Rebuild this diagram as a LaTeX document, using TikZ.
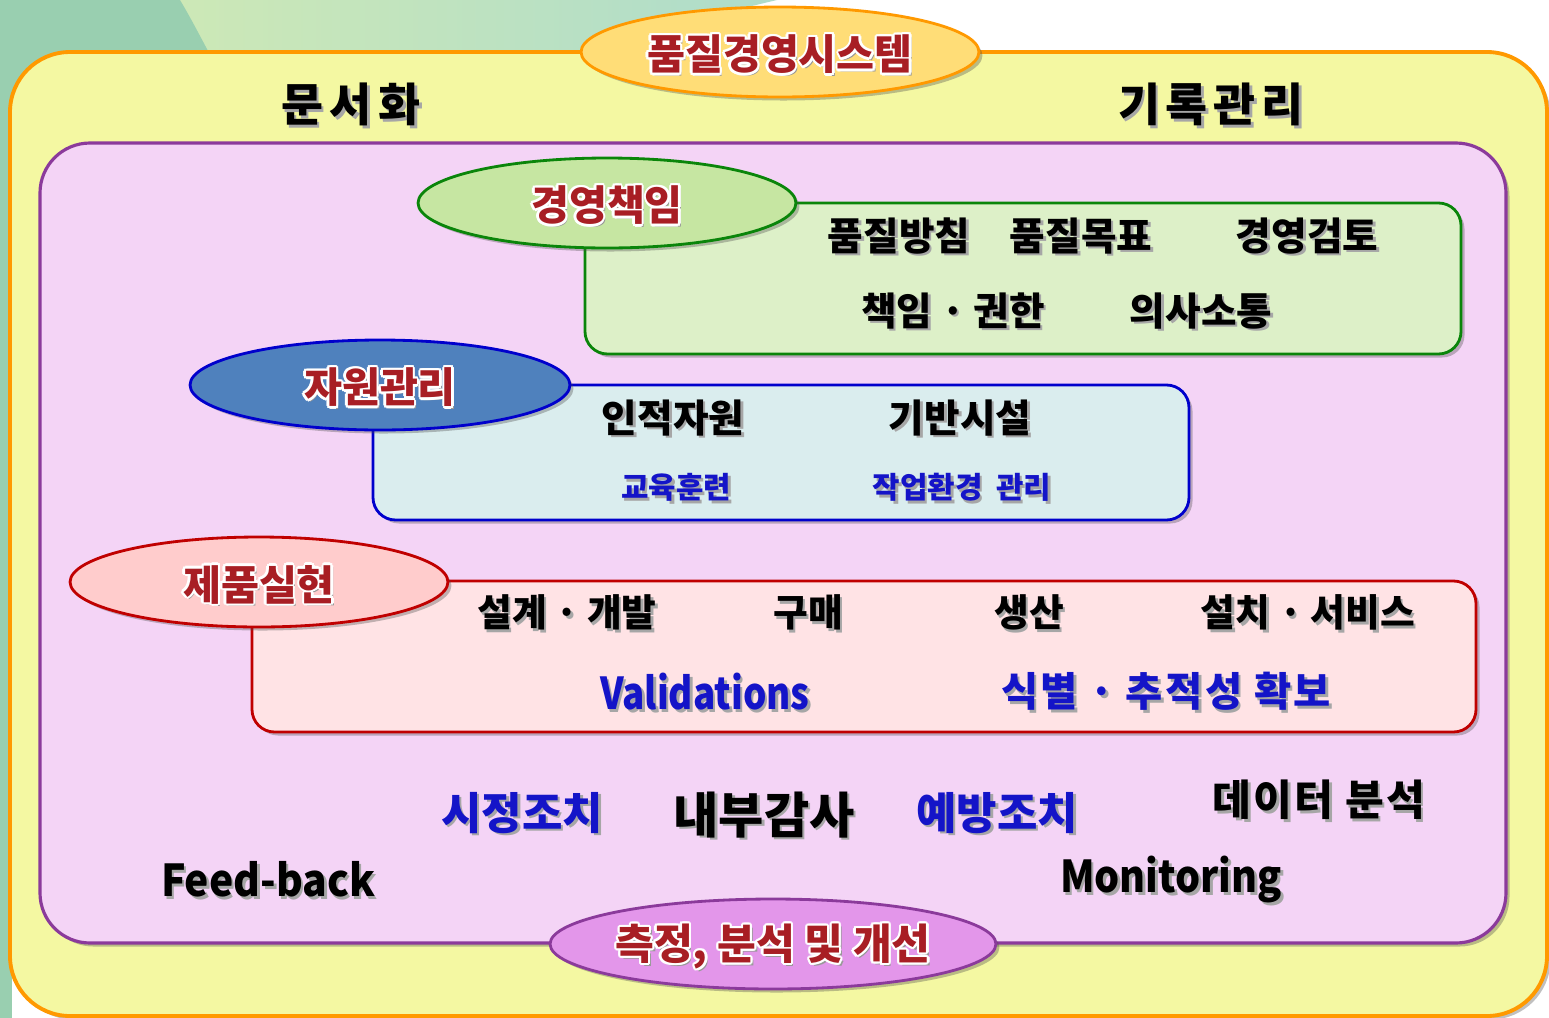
\documentclass[tikz,border=0pt]{standalone}
\usepackage{fontspec}
\setmainfont{Noto Sans CJK KR}
\usepackage{contour}
\contourlength{1.3pt}
\contournumber{12}
\usetikzlibrary{shapes.geometric,shadows}
\definecolor{dg}{HTML}{99CFB0}
\definecolor{lgA}{HTML}{D6ECB0}
\definecolor{lgB}{HTML}{AEDCCB}
\definecolor{outfill}{HTML}{F4F8A2}
\definecolor{outdraw}{HTML}{FF9900}
\definecolor{infill}{HTML}{F4D4F6}
\definecolor{indraw}{HTML}{8B3A9B}
\definecolor{topell}{HTML}{FFDD77}
\definecolor{gell}{HTML}{C6E6A2}
\definecolor{gbox}{HTML}{DDF0C8}
\definecolor{gdraw}{HTML}{0A850A}
\definecolor{bell}{HTML}{4F81BD}
\definecolor{bdraw}{HTML}{0000CC}
\definecolor{bbox}{HTML}{DAEDEE}
\definecolor{rell}{HTML}{FFCCCC}
\definecolor{rdraw}{HTML}{C00000}
\definecolor{rbox}{HTML}{FFE3E5}
\definecolor{pell}{HTML}{E396EA}
\definecolor{ttlred}{HTML}{A81E24}
\definecolor{btext}{HTML}{1414C8}
\newcommand\sh[1]{\rlap{\kern1.5pt\raisebox{-1.5pt}{\textcolor{black!35}{#1}}}#1}
\newcommand\ttl[1]{\raisebox{-2.2pt}[\height][\depth]{\rlap{\kern1.6pt\raisebox{-1.6pt}{\textcolor{black!40}{#1}}}\contour{white}{#1}}}
\newcommand\cx[2]{\scalebox{#1}[1]{#2}}
\newcommand\ls[2]{{\addfontfeature{LetterSpace=#1}#2}}
\begin{document}
\begin{tikzpicture}[x=0.02cm,y=-0.02cm,
  shd/.style={drop shadow={shadow xshift=2pt,shadow yshift=-2pt,opacity=0.35,fill=black!70}},
  ellbox/.style={ellipse,inner sep=0pt,minimum height=1.8cm,line width=1.6pt,shd,
     text=ttlred,font=\fontsize{23.5}{26}\selectfont\bfseries},
  sec/.style={rounded corners=0.45cm,line width=1.6pt,shd},
  big/.style={font=\fontsize{26}{30}\selectfont\bfseries},
  mid/.style={font=\fontsize{22}{26}\selectfont\bfseries},
  row/.style={font=\fontsize{21.5}{26}\selectfont\bfseries},
  sml/.style={font=\fontsize{17}{20}\selectfont\bfseries,text=btext},
  blu/.style={font=\fontsize{23}{27}\selectfont\bfseries,text=btext},
  lat/.style={font=\fontsize{25}{30}\selectfont\bfseries},
  bot/.style={font=\fontsize{25}{29}\selectfont\bfseries}]
\useasboundingbox (0,0) rectangle (1549,1018);
\fill[white] (0,0) rectangle (1549,1018);
\shade[left color=lgA,right color=lgB] (0,0) -- (777,0) .. controls (700,18) and (630,38) .. (585,62) -- (0,62) -- cycle;
\fill[dg] (0,0) -- (180,0) .. controls (192,20) and (203,42) .. (214,62) -- (0,62) -- cycle;
\fill[dg] (0,0) rectangle (80,140);
\fill[dg] (0,0) rectangle (12,1018);
% outer box
\draw[fill=outfill,draw=outdraw,line width=2.2pt,rounded corners=1.2cm,shd] (10,52) rectangle (1547,1016);
% inner box
\draw[fill=infill,draw=indraw,line width=1.8pt,rounded corners=1cm,shd] (40,143) rectangle (1506,943);
% top title
\node[ellbox,fill=topell,draw=outdraw,minimum width=7.96cm] (qms) at (780,52) {\ttl{품질경영시스템}};
\node[big] (doc) at (351,106) {\sh{\ls{15}{문서화}}};
\node[big] (rec) at (1211,106) {\sh{\ls{13}{기록관리}}};
% management responsibility
\draw[sec,fill=gbox,draw=gdraw] (585,203) rectangle (1461,354);
\node[ellbox,fill=gell,draw=gdraw,minimum width=7.56cm] (mr) at (607,203) {\ttl{경영책임}};
\node[mid] (m1) at (899,237) {\sh{품질방침}};
\node[mid] (m2) at (1081,237) {\sh{품질목표}};
\node[mid] (m3) at (1307,237) {\sh{경영검토}};
\node[mid] (m4) at (953,312) {\sh{책임 · 권한}};
\node[mid] (m5) at (1201,312) {\sh{의사소통}};
% resource management
\draw[sec,fill=bbox,draw=bdraw] (373,385) rectangle (1189,520);
\node[ellbox,fill=bell,draw=bdraw,minimum width=7.6cm] (rm) at (380,385) {\ttl{자원관리}};
\node[mid] (r1) at (673,419) {\sh{인적자원}};
\node[mid] (r2) at (960,419) {\sh{기반시설}};
\node[sml] (r3) at (676,489) {\sh{교육훈련}};
\node[sml] (r4) at (962,489) {\sh{작업환경~~관리}};
% product realization
\draw[sec,fill=rbox,draw=rdraw] (252,581) rectangle (1476,732);
\node[ellbox,fill=rell,draw=rdraw,minimum width=7.56cm] (pr) at (259,582) {\ttl{제품실현}};
\node[row] (p1) at (567,614) {\sh{설계 · 개발}};
\node[row] (p2) at (808,614) {\sh{구매}};
\node[row] (p3) at (1029,614) {\sh{생산}};
\node[row] (p4) at (1308,614) {\sh{설치 · 서비스}};
\node[lat,text=btext] (p5) at (705,693) {\sh{\cx{0.84}{Validations}}};
\node[blu] (p6) at (1166,693) {\sh{\ls{6}{식별 · 추적성 확보}}};
% measurement
\node[bot,text=btext] (a1) at (522,814) {\sh{시정조치}};
\node[font=\fontsize{28}{32}\selectfont\bfseries] (a2) at (764,816) {\sh{내부감사}};
\node[bot,text=btext] (a3) at (997,814) {\sh{예방조치}};
\node[font=\fontsize{24}{28}\selectfont\bfseries] (a4) at (1319,801) {\sh{\ls{5}{데이터 분석}}};
\node[lat] (fb) at (268,881) {\sh{\cx{0.93}{Feed-back}}};
\node[lat] (mo) at (1171,881) {\sh{\cx{0.9}{Monitoring}}};
\node[ellbox,fill=pell,draw=indraw,minimum width=8.76cm,font=\fontsize{24}{27}\selectfont\bfseries] (mai) at (773,944) {\ttl{측정, 분석 및 개선}};
\end{tikzpicture}
\end{document}
